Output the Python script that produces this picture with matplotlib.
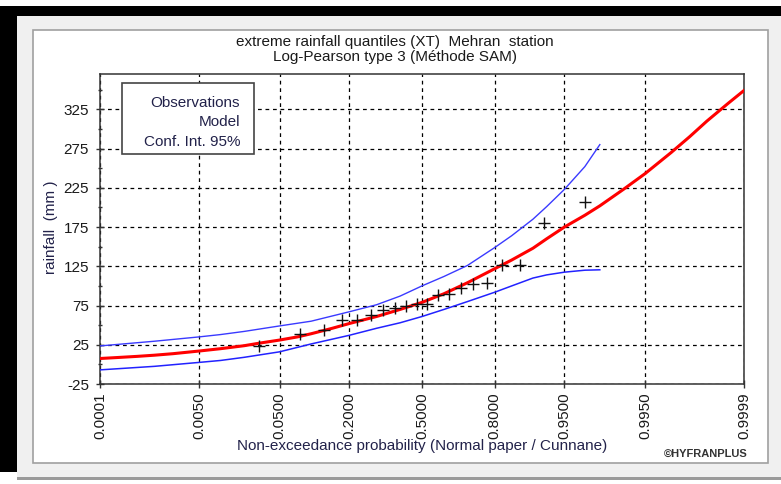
import numpy as np
import matplotlib
matplotlib.use('Agg')
import matplotlib.pyplot as plt
from matplotlib.patches import Rectangle
from matplotlib.ticker import FixedLocator, MultipleLocator
from statistics import NormalDist

# observations (Cunnane plotting positions)
obs_prob = [0.030, 0.079, 0.129, 0.178, 0.228, 0.277, 0.327, 0.376, 0.426, 0.475,
            0.525, 0.574, 0.624, 0.673, 0.723, 0.772, 0.822, 0.871, 0.921, 0.970]
obs_rain = [24, 39, 44, 56, 57, 63, 69, 72, 74, 77,
            77, 89, 90, 97, 102, 104, 126, 127, 180, 207]

# fitted Log-Pearson 3 quantiles
model_prob = [0.0001, 0.0002, 0.0005, 0.001, 0.002, 0.005, 0.01, 0.02, 0.03, 0.05,
              0.075, 0.1, 0.15, 0.2, 0.3, 0.4, 0.5, 0.6, 0.7, 0.8, 0.85, 0.9,
              0.925, 0.95, 0.97, 0.98, 0.99, 0.995, 0.998, 0.999, 0.9995, 0.9998, 0.9999]
model_rain = [7.5, 8.6, 10.2, 11.7, 13.6, 17, 20, 23.8, 27, 31,
              35, 39, 46, 52, 61, 70, 79, 90, 104, 122, 133, 148,
              160, 175, 190, 202, 223, 243, 270, 290, 310, 333, 349]

# 95% confidence interval
ci_prob = [0.0001, 0.001, 0.005, 0.01, 0.02, 0.05, 0.1, 0.2, 0.3, 0.4, 0.5,
           0.6, 0.7, 0.8, 0.85, 0.9, 0.925, 0.95, 0.97, 0.98]
ci_upper = [23.5, 29.5, 35, 38, 42, 49, 55, 67, 76, 87, 100,
            112, 126, 149, 164, 185, 201, 223, 252, 280]
ci_lower = [-7, -2.5, 2.5, 5, 9, 16, 26, 37, 46, 53, 61,
            70, 80, 92, 100, 110, 114, 117.5, 120, 120.5]

xticks = [0.0001, 0.005, 0.05, 0.2, 0.5, 0.8, 0.95, 0.995, 0.9999]
yticks = [-25, 25, 75, 125, 175, 225, 275, 325]

nd = NormalDist()
_ppf = np.vectorize(nd.inv_cdf, otypes=[float])
_cdf = np.vectorize(nd.cdf, otypes=[float])

def fwd(p):
    p = np.clip(np.asarray(p, dtype=float), 1e-9, 1 - 1e-9)
    return _ppf(p)

def inv(z):
    return _cdf(np.asarray(z, dtype=float))

plt.rcParams['font.family'] = ['Liberation Sans', 'DejaVu Sans']

W, H = 781, 484
fig = plt.figure(figsize=(W / 100, H / 100), dpi=100, facecolor='white')

def px_rect(x0, y0, x1, y1, **kw):
    # pixel box, top-left origin -> figure fraction
    r = Rectangle((x0 / W, 1 - y1 / H), (x1 - x0) / W, (y1 - y0) / H,
                  transform=fig.transFigure, **kw)
    fig.add_artist(r)

# window decoration
px_rect(17, 16, 781, 478, facecolor='#f0f0f0', edgecolor='none', zorder=-5)
px_rect(0, 6, 17, 472, facecolor='black', edgecolor='none', zorder=-4)
px_rect(0, 6, 781, 16, facecolor='black', edgecolor='none', zorder=-4)
px_rect(17, 477, 781, 480, facecolor='#9a9a9a', edgecolor='none', zorder=-4)
px_rect(33, 30, 768, 463, facecolor='white', edgecolor='#a0a0a0', linewidth=1.2, zorder=-3)

ax = fig.add_axes([100 / W, 1 - 384 / H, 644 / W, 310 / H])
ax.set_facecolor('white')
ax.set_xscale('function', functions=(fwd, inv))
ax.set_xlim(0.0001, 0.9999)
ax.set_ylim(-25, 370)

ax.plot(ci_prob, ci_upper, color='#3a3aff', lw=1.0, zorder=3)
ax.plot(ci_prob, ci_lower, color='#2222ff', lw=1.1, zorder=3)
ax.plot(model_prob, model_rain, color='#ff0000', lw=2.2, zorder=4)
ax.plot(obs_prob, obs_rain, ls='none', marker='+', color='#111111', ms=9, mew=1.0, zorder=5)

ax.xaxis.set_major_locator(FixedLocator(xticks))
ax.xaxis.set_minor_locator(FixedLocator([]))
ax.set_xticklabels(['%.4f' % t for t in xticks], rotation=90, fontsize=11, color='#1a1a1a')
ax.yaxis.set_major_locator(FixedLocator(yticks))
ax.yaxis.set_minor_locator(MultipleLocator(25))
ax.set_yticklabels([str(t) for t in yticks], fontsize=11, color='#1a1a1a')

ax.tick_params(axis='both', which='major', direction='inout', length=6, width=1, color='#333333')
ax.tick_params(axis='y', which='minor', direction='inout', length=3, width=1, color='#333333')
ax.tick_params(axis='x', pad=3)
ax.tick_params(axis='y', pad=5)

ax.grid(True, which='major', color='black', ls=(0, (3, 3)), lw=0.9)
for s in ax.spines.values():
    s.set_color('#333333')
    s.set_linewidth(1.1)

# legend box (text only, as in HYFRAN)
ax.add_patch(Rectangle((22 / 644, (384 - 154) / 310), 132 / 644, 71 / 310,
                       transform=ax.transAxes, facecolor='white', edgecolor='#444444',
                       lw=1.2, zorder=6))
for i, lab in enumerate(['Observations', 'Model', 'Conf. Int. 95%']):
    ax.text(140 / 644, (384 - 103 - i * 19.5) / 310, lab, transform=ax.transAxes,
            ha='right', va='center', fontsize=11, color='#22224a', zorder=7)

fig.text(395 / W, 1 - 42 / H, 'extreme rainfall quantiles (XT)  Mehran  station',
         ha='center', va='center', fontsize=11, color='#1a1a1a')
fig.text(395 / W, 1 - 56.5 / H, 'Log-Pearson type 3 (Méthode SAM)',
         ha='center', va='center', fontsize=11, color='#1a1a1a')
fig.text(422 / W, 1 - 446 / H, 'Non-exceedance probability (Normal paper / Cunnane)',
         ha='center', va='center', fontsize=11, color='#22224a')
fig.text(51 / W, 1 - 227 / H, 'rainfall  (mm )', rotation=90,
         ha='center', va='center', fontsize=11, color='#22224a')
fig.text(748 / W, 1 - 454 / H, '©HYFRANPLUS', ha='right', va='center',
         fontsize=8, fontweight='bold', color='#333333')

fig.savefig('out.png', dpi=100, facecolor=fig.get_facecolor())
